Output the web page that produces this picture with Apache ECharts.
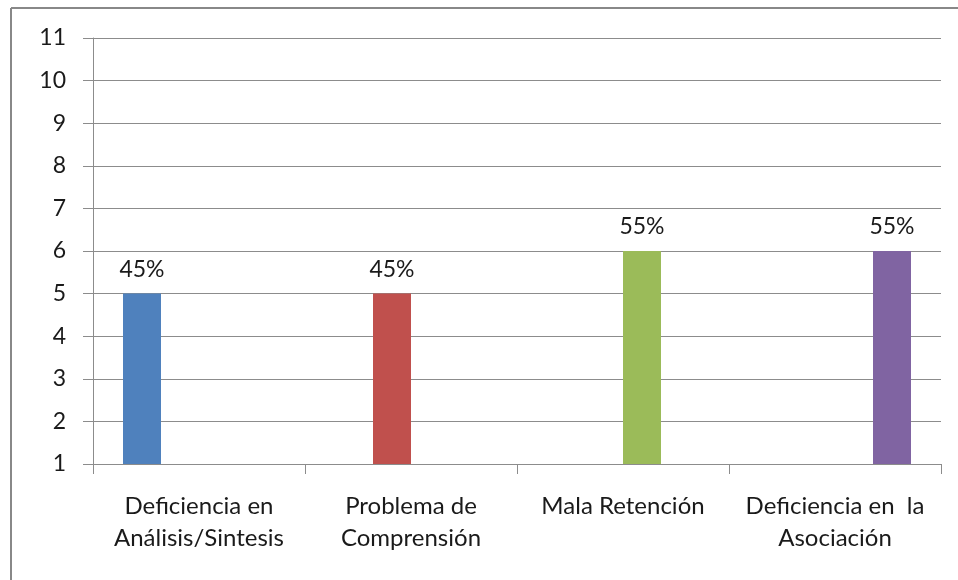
<!DOCTYPE html>
<html>
<head>
<meta charset="utf-8">
<script src="https://cdn.jsdelivr.net/npm/echarts@6/dist/echarts.min.js"></script>
<style>
  html, body { margin: 0; padding: 0; background: #fff; }
  #chart { width: 958px; height: 580px; }
</style>
</head>
<body>
<div id="chart"></div>
<script>
const categories = ['Deficiencia en\nAnálisis/Sintesis', 'Problema de\nComprensión', 'Mala Retención', 'Deficiencia en  la\nAsociación']
const values = [5, 5, 6, 6]
const pctLabels = ['45%', '45%', '55%', '55%']
const colors = ['#4F81BD', '#C0504D', '#9BBB59', '#8064A2']
const yTicks = { min: 1, max: 11, interval: 1 }

const font = 'Lato, "Open Sans", sans-serif'
const textColor = '#1a1a1a'
const lineColor = '#8c8c8c'

const chart = echarts.init(document.getElementById('chart'), null, { renderer: 'canvas' })

// one series per category so each bar sits in its own slot of the group
const series = categories.map((c, i) => ({
  type: 'bar',
  name: c,
  barWidth: 38,
  barGap: '0%',
  color: colors[i],
  data: categories.map((_, j) => (j === i ? values[i] : null)),
  label: {
    show: true,
    position: 'top',
    distance: 13,
    fontFamily: font,
    fontSize: 23,
    color: textColor,
    formatter: () => pctLabels[i],
  },
}))

chart.setOption({
  animation: false,
  grid: { left: 93, right: 17, top: 38, bottom: 116 },
  graphic: [
    { type: 'line', shape: { x1: 11, y1: 8, x2: 958, y2: 8 }, style: { stroke: '#888', lineWidth: 2 } },
    { type: 'line', shape: { x1: 11, y1: 8, x2: 11, y2: 580 }, style: { stroke: '#888', lineWidth: 2 } },
  ],
  xAxis: {
    type: 'category',
    data: categories,
    axisLine: { lineStyle: { color: lineColor } },
    axisTick: { show: true, length: 10, lineStyle: { color: lineColor } },
    axisLabel: {
      interval: 0,
      margin: 26,
      fontFamily: font,
      fontSize: 24,
      lineHeight: 32,
      color: textColor,
    },
  },
  yAxis: {
    type: 'value',
    min: yTicks.min,
    max: yTicks.max,
    interval: yTicks.interval,
    axisLine: { show: true, lineStyle: { color: lineColor } },
    axisTick: { show: true, length: 10, lineStyle: { color: lineColor } },
    splitLine: { lineStyle: { color: lineColor } },
    axisLabel: { margin: 27, fontFamily: font, fontSize: 23, color: textColor },
  },
  series,
})
</script>
</body>
</html>
